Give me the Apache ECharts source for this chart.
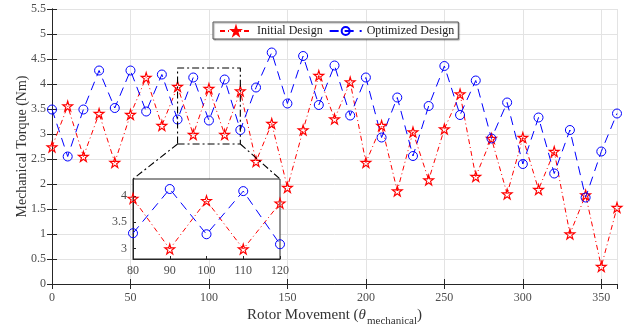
<!DOCTYPE html>
<html>
<head>
<meta charset="utf-8">
<script src="https://cdn.jsdelivr.net/npm/echarts@6/dist/echarts.min.js"></script>
<style>
  html, body { margin: 0; padding: 0; background: #fff; }
  #main { width: 629px; height: 332px; }
</style>
</head>
<body>
<div id="main"></div>
<script>
// rotor angle (degrees)
var angles = [0, 10, 20, 30, 40, 50, 60, 70, 80, 90, 100, 110, 120, 130, 140, 150, 160, 170, 180,
    190, 200, 210, 220, 230, 240, 250, 260, 270, 280, 290, 300, 310, 320, 330, 340, 350, 360];
// torque of the initial design (Nm)
var initialTorque = [2.74, 3.56, 2.55, 3.41, 2.43, 3.39, 4.13, 3.17, 3.95, 2.99, 3.91, 2.99, 3.86,
    2.45, 3.21, 1.93, 3.08, 4.17, 3.30, 4.04, 2.43, 3.17, 1.86, 3.04, 2.08, 3.10, 3.80, 2.15,
    2.91, 1.80, 2.93, 1.89, 2.65, 1.00, 1.78, 0.35, 1.53];
// torque of the optimized design (Nm)
var optimizedTorque = [3.49, 2.55, 3.49, 4.27, 3.52, 4.27, 3.45, 4.19, 3.29, 4.13, 3.27, 4.09, 3.08,
    3.93, 4.63, 3.61, 4.56, 3.58, 4.37, 3.37, 4.13, 2.93, 3.73, 2.56, 3.56, 4.36, 3.38, 4.07,
    2.91, 3.63, 2.40, 3.33, 2.21, 3.08, 1.73, 2.65, 3.41];
// zoomed window shown in the inset
var zoomX = [80, 120];
var zoomY = [2.8, 4.32];
var insetYTicks = [3, 3.5, 4];

var FONT = '"Liberation Serif", "DejaVu Serif", serif';
var STAR = 'path://M50,0 L61,35 L98,35 L68,57 L79,91 L50,70 L21,91 L32,57 L2,35 L39,35 Z';

function pairs(xs, ys, lo, hi) {
    var out = [];
    for (var i = 0; i < xs.length; i++) {
        if (lo === undefined || (xs[i] >= lo && xs[i] <= hi)) out.push([xs[i], ys[i]]);
    }
    return out;
}

var chart = echarts.init(document.getElementById('main'), null, { renderer: 'canvas' });

var redStyle = { color: '#ff0000', width: 1, type: [5, 3, 1, 3] };
var blueStyle = { color: '#0000ff', width: 1, type: [9, 6] };

function redSeries(xi, yi, data, z) {
    return {
        name: 'Initial Design', type: 'line', xAxisIndex: xi, yAxisIndex: yi, data: data, z: z,
        symbol: STAR, symbolSize: 10, showSymbol: true,
        lineStyle: redStyle,
        itemStyle: { color: 'rgba(255,255,255,0)', borderColor: '#ff0000', borderWidth: 1.1 },
        emphasis: { disabled: true }, animation: false
    };
}
function blueSeries(xi, yi, data, z) {
    return {
        name: 'Optimized Design', type: 'line', xAxisIndex: xi, yAxisIndex: yi, data: data, z: z,
        symbol: 'circle', symbolSize: 9, showSymbol: true,
        lineStyle: blueStyle,
        itemStyle: { color: 'rgba(255,255,255,0)', borderColor: '#0000ff', borderWidth: 1 },
        emphasis: { disabled: true }, animation: false
    };
}

var tickLabel = { fontFamily: FONT, fontSize: 12, color: '#4d4d4d' };
var axisLine = { lineStyle: { color: '#262626', width: 1 } };

var option = {
    backgroundColor: '#ffffff',
    animation: false,
    grid: [
        { left: 52, right: 12, top: 9, bottom: 48, outerBoundsMode: 'none' },
        { left: 133, top: 179, width: 147, height: 80, show: true, backgroundColor: '#ffffff',
          borderColor: '#262626', borderWidth: 1, z: 5, outerBoundsMode: 'none' }
    ],
    legend: {
        data: ['Initial Design', 'Optimized Design'],
        left: 213, top: 22, itemWidth: 32, itemHeight: 10, itemGap: 6,
        padding: [3, 4, 2, 6],
        backgroundColor: '#ffffff', borderColor: '#555', borderWidth: 1,
        shadowColor: 'rgba(0,0,0,0.35)', shadowOffsetX: 1, shadowOffsetY: 1, shadowBlur: 1,
        textStyle: { fontFamily: FONT, fontSize: 12, color: '#222' }
    },
    xAxis: [
        { type: 'value', gridIndex: 0, min: 0, max: 360, interval: 50,
          name: 'Rotor Movement ({it|θ}{sub|mechanical})', nameLocation: 'middle', nameGap: 20,
          nameMoveOverlap: false,
          nameTextStyle: { fontFamily: FONT, fontSize: 15, color: '#333',
              rich: { it: { fontFamily: FONT, fontStyle: 'italic', fontSize: 15, color: '#333' },
                      sub: { fontFamily: FONT, fontSize: 11, color: '#333', padding: [12, 0, 0, 1] } } },
          axisLine: axisLine, axisTick: { inside: true, length: 5, lineStyle: { color: '#262626' } },
          axisLabel: Object.assign({ margin: 8 }, tickLabel),
          splitLine: { show: true, lineStyle: { color: '#e3e3e3', width: 1 } } },
        { type: 'value', gridIndex: 0, min: 0, max: 360, interval: 50, position: 'top',
          axisLine: axisLine, axisTick: { inside: true, length: 5, lineStyle: { color: '#262626' } },
          axisLabel: { show: false }, splitLine: { show: false } },
        { type: 'value', gridIndex: 1, min: zoomX[0], max: zoomX[1], interval: 10, z: 6,
          axisLine: axisLine, axisTick: { inside: true, length: 3, lineStyle: { color: '#262626' } },
          axisLabel: Object.assign({ margin: 6 }, tickLabel), splitLine: { show: false } }
    ],
    yAxis: [
        { type: 'value', gridIndex: 0, min: 0, max: 5.5, interval: 0.5,
          name: 'Mechanical Torque (Nm)', nameLocation: 'middle', nameGap: 23,
          nameMoveOverlap: false,
          nameTextStyle: { fontFamily: FONT, fontSize: 14, color: '#333' },
          axisLine: axisLine, axisTick: { inside: true, length: 5, lineStyle: { color: '#262626' } },
          axisLabel: Object.assign({ margin: 6 }, tickLabel),
          splitLine: { show: true, lineStyle: { color: '#e3e3e3', width: 1 } } },
        { type: 'value', gridIndex: 0, min: 0, max: 5.5, interval: 0.5, position: 'right',
          axisLine: axisLine, axisTick: { inside: true, length: 5, lineStyle: { color: '#262626' } },
          axisLabel: { show: false }, splitLine: { show: false } },
        { type: 'value', gridIndex: 1, min: zoomY[0], max: zoomY[1], z: 6,
          axisLine: axisLine,
          axisTick: { inside: true, length: 3, customValues: insetYTicks, lineStyle: { color: '#262626' } },
          axisLabel: Object.assign({ margin: 6, customValues: insetYTicks }, tickLabel),
          splitLine: { show: false } }
    ],
    series: [
        redSeries(0, 0, pairs(angles, initialTorque), 3),
        blueSeries(0, 0, pairs(angles, optimizedTorque), 3),
        {
            name: 'zoomBox', type: 'line', xAxisIndex: 0, yAxisIndex: 0, z: 4, silent: true,
            symbol: 'none', animation: false,
            lineStyle: { color: '#000', width: 1.1, type: [7, 3, 2, 3] },
            data: [[zoomX[0], zoomY[0]], [zoomX[1], zoomY[0]], [zoomX[1], zoomY[1]],
                   [zoomX[0], zoomY[1]], [zoomX[0], zoomY[0]]]
        },
        redSeries(2, 2, pairs(angles, initialTorque, zoomX[0], zoomX[1]), 8),
        blueSeries(2, 2, pairs(angles, optimizedTorque, zoomX[0], zoomX[1]), 8)
    ]
};
chart.setOption(option);

// connector lines from the zoom box to the inset
var bl = chart.convertToPixel({ xAxisIndex: 0, yAxisIndex: 0 }, [zoomX[0], zoomY[0]]);
var br = chart.convertToPixel({ xAxisIndex: 0, yAxisIndex: 0 }, [zoomX[1], zoomY[0]]);
var il = chart.convertToPixel({ xAxisIndex: 2, yAxisIndex: 2 }, [zoomX[0], zoomY[1]]);
var ir = chart.convertToPixel({ xAxisIndex: 2, yAxisIndex: 2 }, [zoomX[1], zoomY[1]]);
var conn = { stroke: '#000', lineWidth: 1.1, lineDash: [7, 3, 2, 3] };
chart.setOption({
    graphic: [
        { type: 'line', z: 4, silent: true, shape: { x1: bl[0], y1: bl[1], x2: il[0], y2: il[1] }, style: conn },
        { type: 'line', z: 4, silent: true, shape: { x1: br[0], y1: br[1], x2: ir[0], y2: ir[1] }, style: conn }
    ]
});
</script>
</body>
</html>
